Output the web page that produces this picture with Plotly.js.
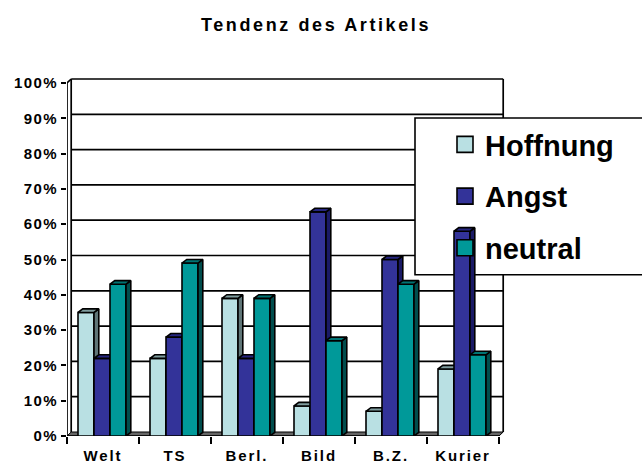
<!DOCTYPE html>
<html><head><meta charset="utf-8">
<script src="https://cdn.plot.ly/plotly-3.0.1.min.js"></script>
<style>
html,body{margin:0;padding:0;background:#fff}
.gtitle{letter-spacing:2.6px}
.xtick text{letter-spacing:1.9px}
.ytick text{letter-spacing:1.4px}
</style></head><body><div id="chart" style="width:642px;height:464px"></div>
<script>
var categories=["Welt","TS","Berl.","Bild","B.Z.","Kurier"];
var seriesNames=["Hoffnung","Angst","neutral"];
var hoffnung=[35,22,39,8.5,7,19];
var angst=[22,28,22,63.5,50,58];
var neutral=[43,49,39,27,43,23];
var yTicks=[0,10,20,30,40,50,60,70,80,90,100];
var colors=["#B9E0E3","#333399","#009999"];
var sideColors=["#5F7577","#1A1A66","#004D4D"];
var topColors=["#7F9C9E","#262680","#007373"];
var values=[hoffnung,angst,neutral];

var catPx=72, yPx=3.535;
var L=67, B=436.4, n=categories.length;
var plotW=642-L, plotH=100*yPx+7;
var xMax=plotW/catPx, yMax=plotH/yPx;
var barW=16/catPx, start=11/catPx;
var bdx=4.8/catPx, bdy=3.6/yPx;
var wdx=4.2/catPx, wdy=4/yPx;
var blk={color:"#000",width:1.6};
var traces=[];
function dx(p){return (p-L)/catPx;}
function dy(p){return (B-p)/yPx;}
function px(p){return (p-L)/plotW;}
function py(p){return (B-p)/plotH;}

// floor, back wall, grid
traces.push({type:"scatter",mode:"lines",x:[0,wdx,n+wdx,n,0],y:[0,wdy,wdy,0,0],fill:"toself",fillcolor:"#666",line:{color:"#000",width:1},showlegend:false,hoverinfo:"skip",cliponaxis:false});
var gx=[],gy=[];
yTicks.forEach(function(t){if(t>0){gx.push(wdx,n+wdx,null);gy.push(t+wdy,t+wdy,null);}});
gx.push(wdx,wdx,null,n+wdx,n+wdx,null,0,wdx,null,0,0,null,0,n);
gy.push(wdy,100+wdy,null,wdy,100+wdy,null,100,100+wdy,null,0,100,null,0,0);
traces.push({type:"scatter",mode:"lines",x:gx,y:gy,line:{color:"#000",width:1.7},showlegend:false,hoverinfo:"skip",cliponaxis:false});

// legend panel: covers the grid, but the Kurier bar stays in front of it
traces.push({type:"scatter",mode:"none",x:[dx(415),xMax,xMax,dx(415),dx(415)],y:[dy(118),dy(118),dy(275),dy(275),dy(118)],fill:"toself",fillcolor:"#fff",showlegend:false,hoverinfo:"skip",cliponaxis:false});
traces.push({type:"scatter",mode:"lines",x:[xMax,dx(415),dx(415),xMax],y:[dy(118),dy(118),dy(275),dy(275)],line:{color:"#000",width:1.6},showlegend:false,hoverinfo:"skip",cliponaxis:false});

values.forEach(function(vals,k){
  var ax=k+2, xa="x"+ax, ya="y"+ax;
  var xs=vals.map(function(_,i){return i+start+k*barW+barW/2;});
  traces.push({type:"bar",name:seriesNames[k],x:xs,y:vals,width:barW,xaxis:xa,yaxis:ya,marker:{color:colors[k],line:{color:"#000",width:1.6}},showlegend:false,cliponaxis:false});
  var sx=[],sy=[],tx=[],ty=[];
  vals.forEach(function(v,i){
    var x1=i+start+(k+1)*barW, x0=x1-barW;
    sx.push(x1,x1+bdx,x1+bdx,x1,x1,null);sy.push(0,bdy,v+bdy,v,0,null);
    tx.push(x0,x0+bdx,x1+bdx,x1,x0,null);ty.push(v,v+bdy,v+bdy,v,v,null);
  });
  traces.push({type:"scatter",mode:"lines",x:sx,y:sy,fill:"toself",fillcolor:sideColors[k],line:blk,xaxis:xa,yaxis:ya,showlegend:false,hoverinfo:"skip",cliponaxis:false});
  traces.push({type:"scatter",mode:"lines",x:tx,y:ty,fill:"toself",fillcolor:topColors[k],line:blk,xaxis:xa,yaxis:ya,showlegend:false,hoverinfo:"skip",cliponaxis:false});
});
seriesNames.forEach(function(s,k){
  traces.push({type:"scatter",mode:"markers",name:s,x:[null],y:[null],xaxis:"x4",yaxis:"y4",legendgroup:s,marker:{symbol:"square",size:16,color:colors[k],line:{color:"#000",width:1.6}}});
});

var layout={
  width:642,height:464,paper_bgcolor:"#fff",plot_bgcolor:"rgba(0,0,0,0)",
  margin:{l:L,r:0,t:B-plotH,b:464-B,autoexpand:false},
  font:{family:"Liberation Sans, Arial, sans-serif",color:"#000"},
  title:{text:"<b>Tendenz des Artikels</b>",font:{size:18},x:316/642,xanchor:"center",y:1-25/464,yanchor:"middle"},
  showlegend:true,
  legend:{x:px(445),xanchor:"left",y:py(119),yanchor:"top",bgcolor:"rgba(0,0,0,0)",borderwidth:0,font:{size:29,family:"Liberation Sans, Arial, sans-serif",weight:700},tracegroupgap:11,itemsizing:"trace"},
  xaxis:{range:[0,xMax],tickmode:"array",tickvals:categories.map(function(_,i){return i+.5;}),ticktext:categories.map(function(c){return "<b>"+c+"</b>";}),ticks:"",tickfont:{size:15},showgrid:false,zeroline:false,showline:false,ticklabelstandoff:9,
    minor:{tickmode:"array",tickvals:categories.map(function(_,i){return i;}).concat([n]),ticks:"outside",ticklen:7,tickwidth:2,tickcolor:"#000",showgrid:false},fixedrange:true},
  yaxis:{range:[0,yMax],tickmode:"array",tickvals:yTicks,ticktext:yTicks.map(function(t){return "<b>"+t+"%</b>";}),ticks:"outside",ticklen:5,tickwidth:2,tickcolor:"#000",tickfont:{size:15},showgrid:false,zeroline:false,showline:false,fixedrange:true},
  barmode:"overlay"
};
[2,3,4].forEach(function(a){
  layout["xaxis"+a]={range:[0,xMax],overlaying:"x",visible:false,fixedrange:true};
  layout["yaxis"+a]={range:[0,yMax],overlaying:"y",visible:false,fixedrange:true};
});
Plotly.newPlot("chart",traces,layout,{displayModeBar:false,staticPlot:true});
</script></body></html>
